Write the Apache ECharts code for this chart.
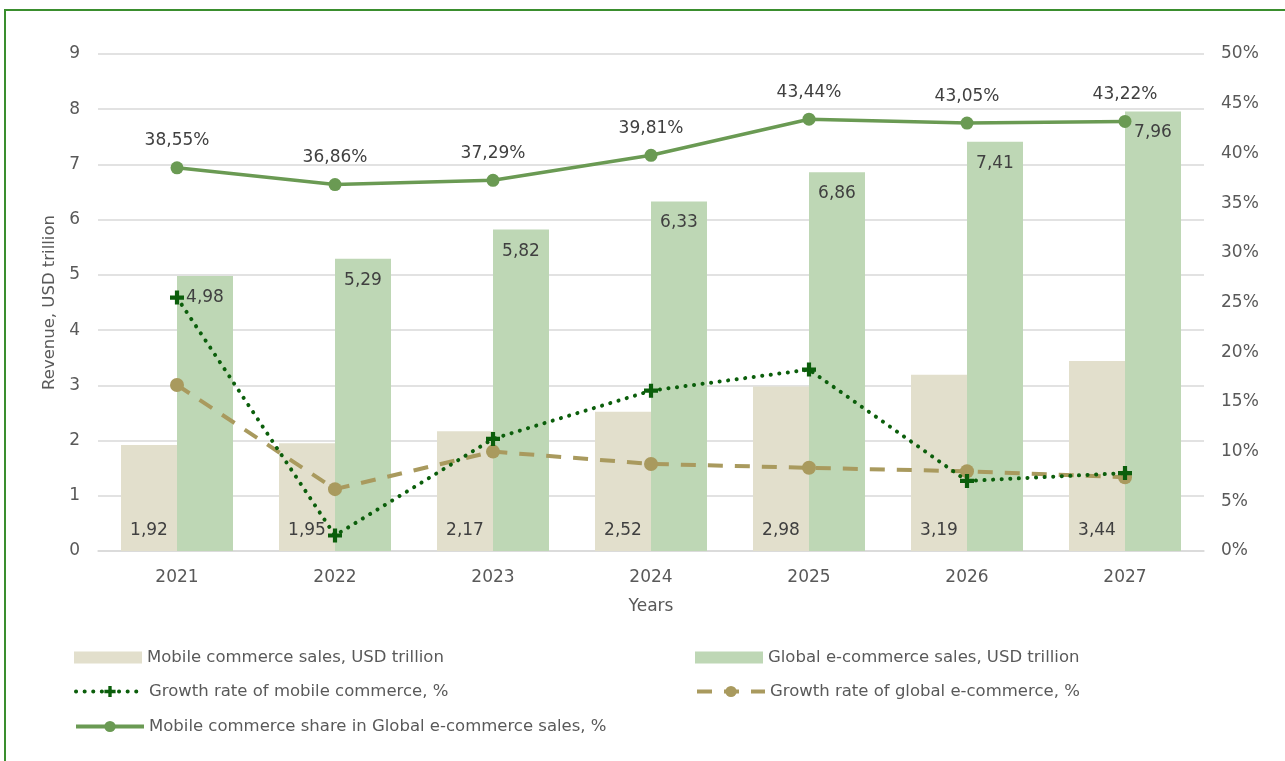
<!DOCTYPE html>
<html>
<head>
<meta charset="utf-8">
<script src="https://cdn.jsdelivr.net/npm/echarts@6/dist/echarts.min.js"></script>
<style>
html,body{margin:0;padding:0;background:#fff;overflow:hidden;}
#frame{position:absolute;left:4px;top:9px;width:1300px;height:800px;border:2px solid #3A8E2E;box-sizing:border-box;}
#chart{position:absolute;left:0;top:0;width:1285px;height:761px;}
</style>
</head>
<body>
<div id="frame"></div>
<div id="chart"></div>
<script>
const years = ['2021','2022','2023','2024','2025','2026','2027'];
const mobileSales = [1.92,1.95,2.17,2.52,2.98,3.19,3.44];
const globalSales = [4.98,5.29,5.82,6.33,6.86,7.41,7.96];
const mobileGrowth = [25.5,1.56,11.28,16.13,18.25,7.05,7.84];
const globalGrowth = [16.7,6.22,10.0,8.76,8.37,8.02,7.42];
const mobileShare = [38.55,36.86,37.29,39.81,43.44,43.05,43.22];

const FONT = 'DejaVu Sans';
const TXT = '#595959';
const LBL = '#404040';
const FS = 17;
const comma = v => v.toFixed(2).replace('.', ',');

const C_MOB = '#E2DFCC', C_GLO = '#BED7B5', C_GG = '#A99A5E', C_MG = '#0B5E0B', C_SH = '#6A9A53';
const STAR = 'path://M3.5,0H6.5V3.5H10V6.5H6.5V10H3.5V6.5H0V3.5H3.5Z';

function leg(name, left, top, h, extra) {
  return Object.assign({
    left: left, top: top, padding: 0, itemWidth: 68, itemHeight: h,
    textStyle: {fontFamily: FONT, fontSize: 16.5, color: TXT},
    data: [name]
  }, extra || {});
}

const chart = echarts.init(document.getElementById('chart'));
chart.setOption({
  animation: false,
  textStyle: {fontFamily: FONT},
  grid: {left: 98, right: 81, top: 54, bottom: 210},
  legend: [
    leg({name: 'Mobile commerce sales, USD trillion', icon: 'rect'}, 74, 649, 12),
    leg({name: 'Global e-commerce sales, USD trillion', icon: 'rect'}, 695, 649, 12),
    leg('Growth rate of mobile commerce, %', 74, 683, 14, {lineStyle: {width: 4}}),
    leg('Growth rate of global e-commerce, %', 695, 683, 14, {lineStyle: {width: 4}}),
    leg('Mobile commerce share in Global e-commerce sales, %', 74, 718, 14, {lineStyle: {width: 4}})
  ],
  xAxis: {
    type: 'category', data: years,
    name: 'Years', nameLocation: 'middle', nameGap: 47,
    nameTextStyle: {fontFamily: FONT, fontSize: FS, color: TXT},
    axisTick: {show: false},
    axisLine: {lineStyle: {color: '#D9D9D9', width: 1.5}},
    axisLabel: {fontFamily: FONT, fontSize: FS, color: TXT, margin: 18}
  },
  yAxis: [
    {
      type: 'value', min: 0, max: 9, interval: 1,
      name: 'Revenue, USD trillion', nameLocation: 'middle', nameGap: 37,
      nameTextStyle: {fontFamily: FONT, fontSize: 16.5, color: TXT},
      axisLine: {show: false}, axisTick: {show: false},
      axisLabel: {fontFamily: FONT, fontSize: FS, color: TXT, margin: 18},
      splitLine: {lineStyle: {color: '#D9D9D9', width: 1.5}}
    },
    {
      type: 'value', min: 0, max: 50, interval: 5, position: 'right',
      axisLine: {show: false}, axisTick: {show: false},
      axisLabel: {fontFamily: FONT, fontSize: FS, color: TXT, margin: 17, formatter: '{value}%'},
      splitLine: {show: false}
    }
  ],
  series: [
    {
      name: 'Mobile commerce sales, USD trillion', type: 'bar', data: mobileSales,
      barWidth: 56, barGap: '0%', itemStyle: {color: C_MOB},
      label: {show: true, position: 'insideBottom', distance: 12, color: LBL, fontSize: FS, fontFamily: FONT,
        formatter: p => comma(p.value)}
    },
    {
      name: 'Global e-commerce sales, USD trillion', type: 'bar', data: globalSales,
      barWidth: 56, barGap: '0%', itemStyle: {color: C_GLO},
      label: {show: true, position: 'insideTop', distance: 13, color: LBL, fontSize: FS, fontFamily: FONT,
        formatter: p => comma(p.value)}
    },
    {
      name: 'Growth rate of global e-commerce, %', type: 'line', yAxisIndex: 1, data: globalGrowth,
      symbol: 'circle', symbolSize: 14, z: 3,
      lineStyle: {color: C_GG, width: 4, type: [15, 12], cap: 'butt'},
      itemStyle: {color: C_GG}
    },
    {
      name: 'Growth rate of mobile commerce, %', type: 'line', yAxisIndex: 1, data: mobileGrowth,
      symbol: STAR, symbolSize: 14, z: 4,
      lineStyle: {color: C_MG, width: 4, type: [0.1, 8.5], cap: 'round'},
      itemStyle: {color: C_MG}
    },
    {
      name: 'Mobile commerce share in Global e-commerce sales, %', type: 'line', yAxisIndex: 1, data: mobileShare,
      symbol: 'circle', symbolSize: 13, z: 5,
      lineStyle: {color: C_SH, width: 3.5},
      itemStyle: {color: C_SH},
      label: {show: true, position: 'top', distance: 12, color: LBL, fontSize: FS, fontFamily: FONT,
        formatter: p => comma(p.value) + '%'}
    }
  ]
});
</script>
</body>
</html>
